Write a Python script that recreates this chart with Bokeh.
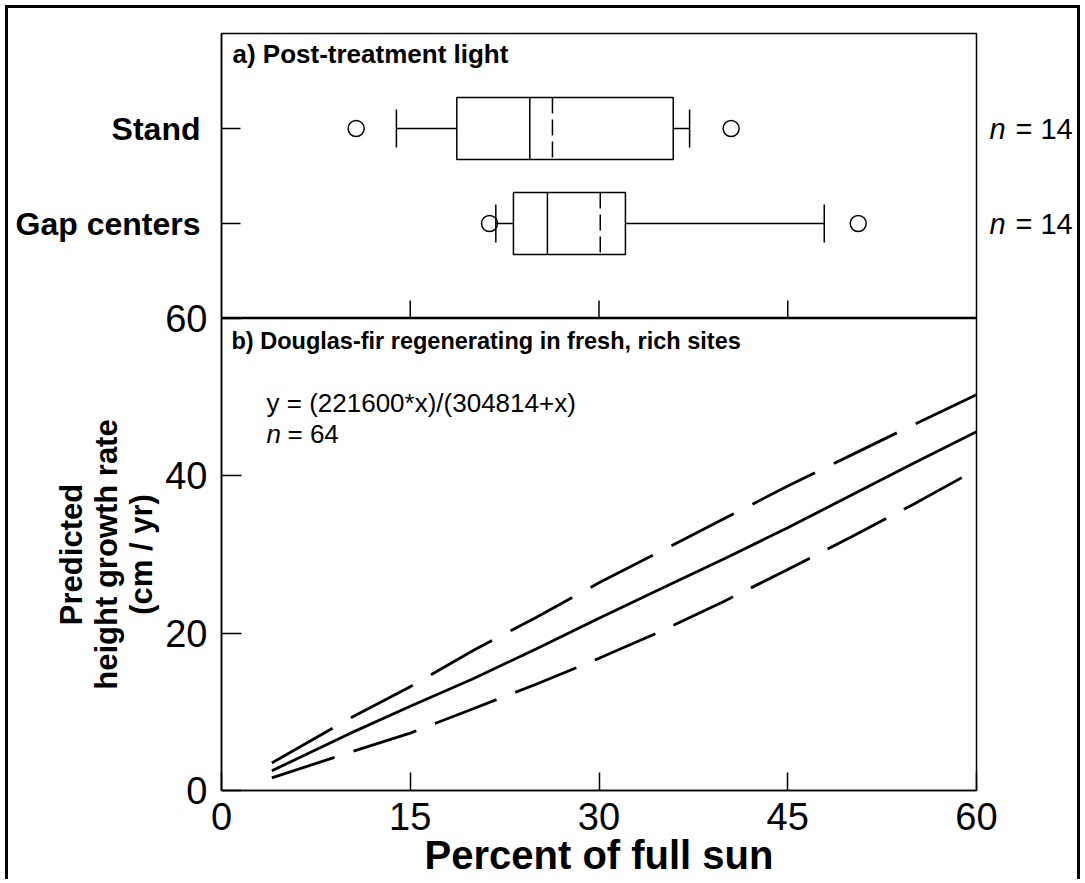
from bokeh.plotting import figure
from bokeh.layouts import column
from bokeh.models import Range1d, FixedTicker, Label, LinearAxis
from bokeh.embed import file_html
from bokeh.resources import INLINE

# ---------------- data ----------------
groups = ["Stand", "Gap centers"]
n_obs = [14, 14]
whisker_low = [13.9, 21.8]
q1 = [18.7, 23.2]
median = [24.5, 25.9]
mean = [26.3, 30.1]
q3 = [35.9, 32.1]
whisker_high = [37.2, 47.9]
outlier_group = ["Stand", "Stand", "Gap centers", "Gap centers"]
outlier_value = [10.7, 40.5, 21.3, 50.6]

sun = [4, 10, 15, 20, 25, 30, 35, 40, 45, 50, 55, 60]
growth_fit = [2.5, 7.1, 10.7, 14.2, 18.0, 21.9, 25.7, 29.5, 33.4, 37.5, 41.6, 45.6]
growth_upper = [3.5, 9.0, 13.2, 17.8, 22.0, 26.4, 30.5, 34.6, 38.7, 42.6, 46.5, 50.3]
growth_lower = [1.6, 4.75, 7.3, 10.4, 13.5, 16.8, 20.3, 24.1, 28.1, 32.2, 36.4, 40.8]

x_ticks = [0, 15, 30, 45, 60]
y_ticks = [0, 20, 40, 60]

equation_text = "y = (221600*x)/(304814+x)"
n_fit = 64

# ---------------- layout constants ----------------
FONT = "Liberation Sans"
FRAME_W = 755
TOP_H, BOT_H = 285, 472
ML, MR = 213, 101
OVERLAP = 22
X_MAX = 60.0
PX_PER_X = FRAME_W / X_MAX
N_CAT = len(groups)
PX_PER_CAT = TOP_H / (N_CAT + 1)
PX_PER_Y = BOT_H / 60.0

x_range = Range1d(0, X_MAX)


def style_axis(ax, size, style="normal", standoff=10, tick_in=19):
    ax.major_tick_in = tick_in
    ax.major_tick_out = 0
    ax.minor_tick_in = 0
    ax.minor_tick_out = 0
    ax.axis_line_color = "black"
    ax.axis_line_width = 1.5
    ax.major_tick_line_width = 1.5
    ax.major_tick_line_color = "black"
    ax.major_label_text_font = FONT
    ax.major_label_text_font_size = size
    ax.major_label_text_font_style = style
    ax.major_label_text_color = "black"
    ax.major_label_standoff = standoff


def base_fig(frame_h, y_range, mt, mb):
    f = figure(frame_width=FRAME_W, frame_height=frame_h, x_range=x_range, y_range=y_range,
               output_backend="svg", toolbar_location=None, title=None,
               min_border_left=ML, min_border_right=MR, min_border_top=mt, min_border_bottom=mb)
    f.xgrid.visible = False
    f.ygrid.visible = False
    f.background_fill_color = "white"
    f.border_fill_color = None
    f.outline_line_color = "black"
    f.outline_line_width = 1.5
    return f


def lab(f, x, y, text, size, style="normal", x_offset=0):
    f.add_layout(Label(x=x, y=y, text=text, text_font=FONT, text_font_size=size,
                       text_font_style=style, text_align="left", text_baseline="alphabetic",
                       x_offset=x_offset, text_color="black"))


# ================= upper panel: box plots =================
pt = base_fig(TOP_H, Range1d(0, N_CAT + 1), 25, 0)
pt.xaxis.visible = False
cat_pos = {g: N_CAT - i for i, g in enumerate(groups)}
ys = [cat_pos[g] for g in groups]

style_axis(pt.yaxis[0], "32px", "bold", standoff=21)
pt.yaxis.ticker = FixedTicker(ticks=ys)
pt.yaxis.major_label_overrides = {cat_pos[g]: g for g in groups}

ax_n = LinearAxis(ticker=FixedTicker(ticks=ys), major_label_overrides={y: "n" for y in ys})
style_axis(ax_n, "29px", "italic", standoff=13, tick_in=0)
ax_n.axis_line_color = None
ax_n.major_tick_line_color = None
pt.add_layout(ax_n, "right")
ax_eq = LinearAxis(ticker=FixedTicker(ticks=ys),
                   major_label_overrides={cat_pos[g]: "= " + str(n) for g, n in zip(groups, n_obs)})
style_axis(ax_eq, "29px", "normal", standoff=7, tick_in=0)
ax_eq.axis_line_color = None
ax_eq.major_tick_line_color = None
pt.add_layout(ax_eq, "right")

hh = 31 / PX_PER_CAT
ch = 19 / PX_PER_CAT

pt.scatter(outlier_value, [cat_pos[g] for g in outlier_group], marker="circle",
           size=16, fill_alpha=0, line_color="black", line_width=1.5)
pt.segment(x0=q1, y0=ys, x1=whisker_low, y1=ys, line_color="black", line_width=1.5)
pt.segment(x0=q3, y0=ys, x1=whisker_high, y1=ys, line_color="black", line_width=1.5)
pt.segment(x0=whisker_low, y0=[y - ch for y in ys], x1=whisker_low, y1=[y + ch for y in ys],
           line_color="black", line_width=1.5)
pt.segment(x0=whisker_high, y0=[y - ch for y in ys], x1=whisker_high, y1=[y + ch for y in ys],
           line_color="black", line_width=1.5)
pt.quad(left=q1, right=q3, bottom=[y - hh for y in ys], top=[y + hh for y in ys],
        fill_color="white", line_color="black", line_width=1.5)
pt.segment(x0=median, y0=[y + hh for y in ys], x1=median, y1=[y - hh for y in ys],
           line_color="black", line_width=1.5)
pt.segment(x0=mean, y0=[y + hh for y in ys], x1=mean, y1=[y - hh for y in ys],
           line_color="black", line_width=1.5, line_dash="16 6")

inner = x_ticks[1:-1]
pt.segment(x0=inner, y0=[0] * len(inner), x1=inner, y1=[18 / PX_PER_CAT] * len(inner),
           line_color="black", line_width=1.5)

lab(pt, 11 / PX_PER_X, N_CAT + 1 - 20 / PX_PER_CAT, "a) Post-treatment light", "26px", "bold")

# ================= lower panel: predicted growth =================
pb = base_fig(BOT_H, Range1d(0, 60), OVERLAP, 40)
pb.styles = {"margin-top": "-%dpx" % OVERLAP}
style_axis(pb.xaxis[0], "38px", standoff=12, tick_in=18)
style_axis(pb.yaxis[0], "38px", standoff=14, tick_in=20)
pb.xaxis.ticker = FixedTicker(ticks=x_ticks)
pb.yaxis.ticker = FixedTicker(ticks=y_ticks)

pb.xaxis.axis_label = "Percent of full sun"
pb.xaxis.axis_label_text_font = FONT
pb.xaxis.axis_label_text_font_size = "40px"
pb.xaxis.axis_label_text_font_style = "bold"
pb.xaxis.axis_label_text_color = "black"
pb.xaxis.axis_label_standoff = 0

pb.yaxis.axis_label = "Predicted\nheight growth rate\n(cm / yr)"
pb.yaxis.axis_label_text_font = FONT
pb.yaxis.axis_label_text_font_size = "31px"
pb.yaxis.axis_label_text_font_style = "bold"
pb.yaxis.axis_label_text_color = "black"
pb.yaxis.axis_label_text_line_height = 1.0
pb.yaxis.axis_label_standoff = 3

pb.line(sun, growth_fit, line_color="black", line_width=2.8)
pb.line(sun, growth_upper, line_color="black", line_width=2.8, line_dash="70 21")
pb.line(sun, growth_lower, line_color="black", line_width=2.8, line_dash="66 20")

lab(pb, 10 / PX_PER_X, 60 - 22.5 / PX_PER_Y, "b) Douglas-fir regenerating in fresh, rich sites", "23.5px", "bold")
lab(pb, 45 / PX_PER_X, 60 - 84 / PX_PER_Y, equation_text, "26px")
lab(pb, 45 / PX_PER_X, 60 - 115 / PX_PER_Y, "n", "26px", "italic")
lab(pb, 45 / PX_PER_X, 60 - 115 / PX_PER_Y, "= " + str(n_fit), "26px", x_offset=21)

layout = column(pt, pb)
layout.styles = {"margin": "5px 0 0 5px", "border-top": "3px solid black",
                 "border-left": "3px solid black", "border-right": "3px solid black"}

open("out.html", "w").write(file_html(layout, INLINE))
